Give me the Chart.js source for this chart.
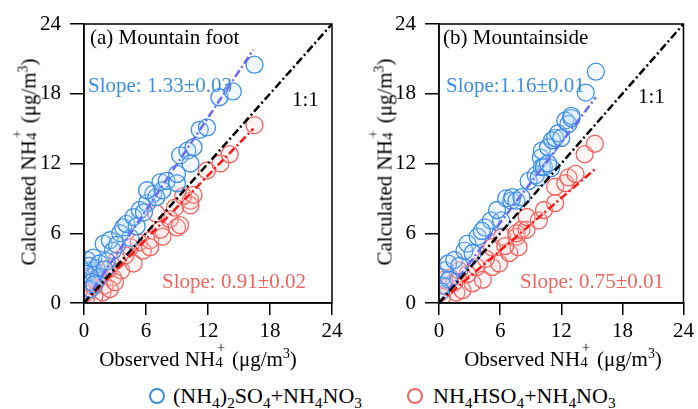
<!DOCTYPE html>
<html>
<head>
<meta charset="utf-8">
<script src="https://cdn.jsdelivr.net/npm/chart.js@4.4.1/dist/chart.umd.min.js"></script>
<style>
  body { margin: 0; background: #fff; width: 698px; height: 409px; overflow: hidden; position: relative;
         font-family: "Liberation Serif", "Times New Roman", serif; color: #000; }
  canvas { position: absolute; top: 0; }
  #c1 { left: 0; }
  #c2 { left: 349px; }
  .lbl { position: absolute; font-size: 21px; white-space: nowrap; line-height: 1; }
  .ytitle { transform: translate(-50%, -50%) rotate(-90deg); }
  .xtitle { transform: translate(-50%, -50%); }
  sub, sup { font-size: 0.66em; line-height: 0; }
  .st { display: inline-block; position: relative; width: 0.55em; height: 1em; vertical-align: baseline; }
  .st .u { position: absolute; left: 0.1em; top: -0.32em; font-size: 0.72em; }
  .st .d { position: absolute; left: 0; top: 0.68em; font-size: 0.72em; }
  .leg { position: absolute; font-size: 22px; white-space: nowrap; line-height: 1; transform: translateY(-50%); }
  .leg sub { font-size: 0.7em; }
  .dot { position: absolute; width: 12px; height: 12px; border-radius: 50%; border: 2px solid; transform: translate(-50%, -50%); }
</style>
</head>
<body>
<canvas id="c1" width="349" height="350"></canvas>
<canvas id="c2" width="349" height="350"></canvas>

<div class="lbl ytitle" style="left:27px;top:162px">Calculated NH<span class="st"><span class="u">+</span><span class="d">4</span></span> (μg/m<sup>3</sup>)</div>
<div class="lbl ytitle" style="left:383px;top:162px">Calculated NH<span class="st"><span class="u">+</span><span class="d">4</span></span> (μg/m<sup>3</sup>)</div>
<div class="lbl xtitle" style="left:198px;top:357px">Observed NH<span class="st"><span class="u">+</span><span class="d">4</span></span> (μg/m<sup>3</sup>)</div>
<div class="lbl xtitle" style="left:563px;top:357px">Observed NH<span class="st"><span class="u">+</span><span class="d">4</span></span> (μg/m<sup>3</sup>)</div>

<div class="dot" style="left:157px;top:396px;border-color:#3b8ee8"></div>
<div class="leg" style="left:173px;top:396px">(NH<sub>4</sub>)<sub>2</sub>SO<sub>4</sub>+NH<sub>4</sub>NO<sub>3</sub></div>
<div class="dot" style="left:415px;top:396px;border-color:#f0645f"></div>
<div class="leg" style="left:433px;top:396px">NH<sub>4</sub>HSO<sub>4</sub>+NH<sub>4</sub>NO<sub>3</sub></div>

<script>
// axis ticks
const tickValues = [0, 6, 12, 18, 24];

// (a) Mountain foot, (NH4)2SO4+NH4NO3
const footAsX = [0.3, 0.6, 0.9, 0.5, 1.2, 1.5, 1.9, 1.0, 2.5, 2.8, 2.2, 3.5, 3.8, 3.2, 4.5, 4.1, 4.8, 5.4, 5.1, 6.1,
  5.8, 6.7, 7.0, 6.1, 7.6, 7.4, 8.0, 9.0, 9.0, 9.3, 10.0, 10.3, 10.6, 11.2, 11.9, 13.1, 14.4, 16.5, 0.2, 1.4, 2.0, 0.8, 0.6, 1.0];
const footAsY = [3.7, 2.8, 3.9, 3.2, 3.0, 3.4, 5.1, 2.4, 5.4, 4.5, 3.6, 6.0, 6.5, 5.0, 5.6, 6.8, 7.4, 8.0, 6.6, 8.6,
  7.8, 9.4, 9.1, 9.7, 9.7, 10.4, 10.5, 10.3, 11.1, 12.7, 13.1, 12.0, 13.4, 14.9, 15.1, 17.7, 18.2, 20.5, 2.5, 2.2, 2.9, 1.8, 1.2, 1.6];
// (a) Mountain foot, NH4HSO4+NH4NO3
const footAbsX = [0.3, 0.6, 0.9, 1.5, 1.8, 0.4, 1.2, 0.2, 2.8, 3.2, 2.4, 2.0, 3.6, 4.5, 4.8, 4.0, 5.7, 5.3, 6.4, 6.4,
  7.0, 7.6, 7.4, 8.3, 9.0, 9.3, 8.8, 10.3, 10.3, 9.6, 10.6, 11.9, 13.2, 14.1, 16.5, 1.0, 2.5, 3.0];
const footAbsY = [0.9, 2.2, 1.4, 2.6, 0.9, 1.8, 1.9, 0.4, 2.2, 3.7, 2.9, 1.5, 2.8, 4.8, 3.4, 4.1, 4.5, 5.2, 5.4, 4.8,
  7.7, 5.7, 6.3, 7.2, 6.5, 6.7, 8.2, 8.8, 8.4, 9.2, 9.3, 11.4, 12.0, 12.8, 15.3, 0.6, 1.2, 1.8];

// (b) Mountainside, (NH4)2SO4+NH4NO3
const sideAsX = [0.3, 0.6, 0.9, 1.5, 0.4, 1.0, 2.5, 2.8, 2.0, 3.8, 3.3, 4.5, 5.1, 6.1, 5.7, 6.6, 7.1, 7.2, 7.6, 8.1,
  8.8, 9.5, 9.8, 10.0, 10.1, 10.3, 11.0, 10.1, 10.7, 10.7, 11.1, 11.4, 11.7, 12.0, 12.4, 12.7, 13.0, 13.0, 14.4, 15.4, 4.2, 0.2];
const sideAsY = [2.2, 2.8, 3.4, 3.7, 1.5, 2.0, 4.5, 5.1, 3.2, 5.7, 4.3, 6.5, 7.1, 7.1, 8.0, 9.0, 8.8, 9.1, 8.8, 9.1,
  10.5, 11.0, 10.8, 12.5, 11.7, 11.7, 11.6, 13.1, 13.4, 12.0, 14.0, 14.2, 14.6, 14.2, 15.7, 15.4, 15.9, 16.1, 18.1, 19.9, 6.2, 1.0];
// (b) Mountainside, NH4HSO4+NH4NO3
const sideAbsX = [0.3, 0.8, 1.1, 1.7, 2.3, 0.5, 1.5, 3.3, 4.3, 3.7, 2.8, 5.2, 5.9, 5.2, 6.9, 6.2, 7.6, 7.8, 7.6, 8.1,
  8.6, 8.6, 9.8, 10.3, 11.4, 11.4, 12.4, 12.7, 13.4, 14.3, 15.3, 4.6, 6.5, 2.0];
const sideAbsY = [0.5, 1.4, 2.2, 0.9, 1.1, 2.0, 1.8, 1.7, 2.0, 3.1, 2.5, 3.1, 3.4, 4.8, 4.3, 5.7, 5.7, 4.8, 6.0, 6.3,
  6.3, 7.4, 7.1, 8.0, 8.6, 10.0, 10.3, 10.8, 11.1, 12.8, 13.7, 3.8, 4.9, 2.8];

// regression / 1:1 line end points
const oneToOneX = [0, 24], oneToOneY = [0, 24];
const footAsFitX = [0, 16.4], footAsFitY = [0, 21.8];
const footAbsFitX = [0, 16.4], footAbsFitY = [0, 15.0];
const sideAsFitX = [0, 15.4], sideAsFitY = [0, 17.7];
const sideAbsFitX = [0, 15.3], sideAbsFitY = [0, 11.5];

const blue = '#3b8ee8', red = '#f0645f';
const serif = '"Liberation Serif", "Times New Roman", serif';

function pts(xs, ys) {
  return xs.map((x, i) => ({ x: x, y: ys[i] }));
}

function circles(xs, ys, color, fill) {
  return {
    data: pts(xs, ys), order: 2,
    pointRadius: 8.5, pointBorderWidth: 1.3,
    pointBorderColor: color, pointBackgroundColor: fill,
    showLine: false
  };
}

function fitLine(xs, ys, color) {
  return {
    data: pts(xs, ys), order: 1, showLine: true,
    borderColor: color, borderWidth: 2.5, borderDash: [8, 3, 2, 3],
    pointRadius: 0
  };
}

const frame = {
  id: 'frame',
  afterDraw(chart) {
    const a = chart.chartArea, ctx = chart.ctx;
    ctx.save();
    ctx.strokeStyle = '#000';
    ctx.lineWidth = 1.5;
    ctx.strokeRect(a.left, a.top, a.right - a.left, a.bottom - a.top);
    ctx.restore();
  }
};

const notes = {
  id: 'notes',
  afterDatasetsDraw(chart, args, opts) {
    const ctx = chart.ctx;
    ctx.save();
    ctx.font = '21px ' + serif;
    ctx.textBaseline = 'middle';
    ctx.textAlign = 'left';
    opts.items.forEach(n => {
      ctx.fillStyle = n.color;
      ctx.fillText(n.text, n.x, n.y);
    });
    ctx.restore();
  }
};

function makeChart(id, asX, asY, absX, absY, asFit, absFit, yWidth, padRight, items) {
  return new Chart(document.getElementById(id), {
    type: 'scatter',
    data: {
      datasets: [
        fitLine(oneToOneX, oneToOneY, '#000'),
        fitLine(asFit[0], asFit[1], '#6a6af2'),
        fitLine(absFit[0], absFit[1], '#ff1414'),
        circles(asX, asY, blue, 'rgba(190,220,250,0.22)'),
        circles(absX, absY, red, 'rgba(250,205,205,0.22)')
      ]
    },
    options: {
      responsive: false,
      animation: false,
      devicePixelRatio: 1,
      layout: { padding: { top: 24, right: padRight, left: 0, bottom: 0 } },
      plugins: { legend: { display: false }, tooltip: { enabled: false }, notes: { items: items } },
      scales: {
        x: {
          min: 0, max: 24,
          afterBuildTicks: s => { s.ticks = tickValues.map(v => ({ value: v })); },
          afterFit: s => { s.height = 47; },
          grid: { drawOnChartArea: false, drawTicks: true, tickLength: 12, color: '#000', lineWidth: 1.5 },
          border: { color: '#000', width: 1.5 },
          ticks: { color: '#000', padding: 4, maxRotation: 0, font: { family: serif, size: 21 } }
        },
        y: {
          min: 0, max: 24,
          afterBuildTicks: s => { s.ticks = tickValues.map(v => ({ value: v })); },
          afterFit: s => { s.width = yWidth; },
          grid: { drawOnChartArea: false, drawTicks: true, tickLength: 14, color: '#000', lineWidth: 1.5 },
          border: { color: '#000', width: 1.5 },
          ticks: { color: '#000', padding: 9, font: { family: serif, size: 21 } }
        }
      }
    },
    plugins: [frame, notes]
  });
}

makeChart('c1', footAsX, footAsY, footAbsX, footAbsY,
  [footAsFitX, footAsFitY], [footAbsFitX, footAbsFitY], 84, 17, [
    { text: '(a) Mountain foot', x: 90, y: 38, color: '#000' },
    { text: 'Slope: 1.33\u00b10.03', x: 88, y: 86, color: blue },
    { text: '1:1', x: 292, y: 100, color: '#000' },
    { text: 'Slope: 0.91\u00b10.02', x: 162, y: 282, color: red }
  ]);

makeChart('c2', sideAsX, sideAsY, sideAbsX, sideAbsY,
  [sideAsFitX, sideAsFitY], [sideAbsFitX, sideAbsFitY], 90, 11, [
    { text: '(b) Mountainside', x: 94, y: 38, color: '#000' },
    { text: 'Slope:1.16\u00b10.01', x: 97, y: 86, color: blue },
    { text: '1:1', x: 289, y: 97, color: '#000' },
    { text: 'Slope: 0.75\u00b10.01', x: 171, y: 282, color: red }
  ]);
</script>
</body>
</html>
